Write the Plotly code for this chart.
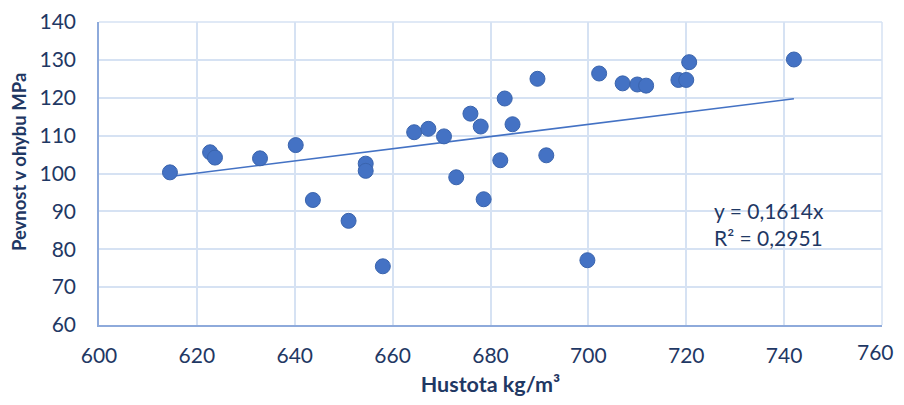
import plotly.graph_objects as go

hustota = [614.5, 622.7, 623.7, 632.9, 640.2, 643.7, 651.0, 654.5, 654.5, 658.0,
           664.4, 667.3, 670.5, 673.0, 675.9, 678.0, 678.6, 682.0, 682.9, 684.5,
           689.6, 691.4, 702.2, 699.8, 707.0, 710.0, 711.8, 718.4, 720.0, 720.6, 742.0]
pevnost = [100.3, 105.6, 104.2, 104.0, 107.5, 93.0, 87.5, 102.6, 100.7, 75.5,
           110.9, 111.8, 109.8, 99.0, 115.8, 112.4, 93.2, 103.5, 119.8, 113.0,
           125.0, 104.8, 126.4, 77.1, 123.8, 123.5, 123.2, 124.7, 124.7, 129.4, 130.1]
slope = 0.1614
r2_text = "0,2951"
x_ticks = [600, 620, 640, 660, 680, 700, 720, 740, 760]
y_ticks = [60, 70, 80, 90, 100, 110, 120, 130, 140]

txt = "#1F3864"
font = "Lato, 'Open Sans', sans-serif"

xmin, xmax = min(hustota), max(hustota)
trend_x = [xmin, xmax]
trend_y = [slope * v for v in trend_x]

fig = go.Figure()
fig.add_trace(go.Scatter(
    x=trend_x, y=trend_y, mode="lines",
    line=dict(color="#4472C4", width=1.5), hoverinfo="skip", showlegend=False))
fig.add_trace(go.Scatter(
    x=hustota, y=pevnost, mode="markers",
    marker=dict(size=15, color="#4472C4", line=dict(color="#3A64AD", width=1)),
    showlegend=False))

fig.add_annotation(
    x=725.3, y=86.8, xref="x", yref="y", xanchor="left", yanchor="middle",
    text="y = " + str(slope).replace(".", ",") + "x<br>R² = " + r2_text,
    showarrow=False, align="left",
    font=dict(family=font, size=21, color=txt))

# y-axis title placed as rotated annotation (matches the reference offset)
fig.add_annotation(
    x=-0.102, y=0.538, xref="paper", yref="paper", xanchor="center", yanchor="middle",
    text="<b>Pevnost v ohybu MPa</b>", textangle=-90, showarrow=False,
    font=dict(family=font, size=18.5, color=txt))

# last x tick label sits at the very edge of the page: right-align it so it is not clipped
x_ticktext = [str(v) for v in x_ticks]
x_ticktext[-1] = ""
fig.add_annotation(
    x=x_ticks[-1], y=0, xref="x", yref="paper", xanchor="right", yanchor="top",
    xshift=14, yshift=-12, text=str(x_ticks[-1]), showarrow=False,
    font=dict(family=font, size=21, color=txt))

# page body has an 8px default margin, so the figure is sized to fit inside it
fig.update_layout(
    width=888, height=389,
    margin=dict(l=91, r=14, t=14, b=72, autoexpand=False),
    paper_bgcolor="white", plot_bgcolor="white",
    font=dict(family=font, color=txt, size=21),
    xaxis=dict(range=[600, 760], tickvals=x_ticks, ticktext=x_ticktext,
               showgrid=True, gridcolor="#D6E2F3", gridwidth=1.5,
               showline=True, linecolor="#8EAADB", linewidth=1.5, mirror=False,
               zeroline=False, ticks="", ticklen=0, ticklabelstandoff=11,
               tickfont=dict(size=21, color=txt, family=font),
               title=dict(text="<b>Hustota kg/m³</b>", font=dict(size=21.5, color=txt, family=font),
                          standoff=14)),
    yaxis=dict(range=[60, 140], tickvals=y_ticks, ticktext=[str(v) for v in y_ticks],
               showgrid=True, gridcolor="#D6E2F3", gridwidth=1.5,
               showline=True, linecolor="#8EAADB", linewidth=1.5,
               zeroline=False, ticks="", ticklen=0, ticklabelstandoff=17,
               tickfont=dict(size=21, color=txt, family=font)),
)
fig.add_shape(type="line", xref="paper", yref="paper", x0=1, x1=1, y0=0, y1=1,
              line=dict(color="#D6E2F3", width=1.5), layer="below")
fig.add_shape(type="line", xref="paper", yref="paper", x0=0, x1=1, y0=1, y1=1,
              line=dict(color="#D6E2F3", width=1.5), layer="below")

fig.write_html("out.html")
